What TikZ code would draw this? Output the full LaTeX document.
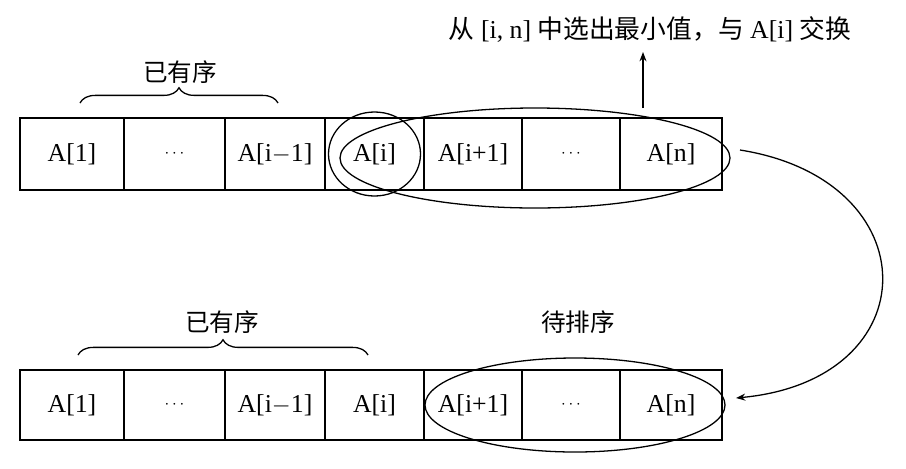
\documentclass[tikz,border=0pt]{standalone}
\usepackage{fontspec}
\setmainfont{Liberation Serif}
\newfontfamily\cjk{Noto Sans CJK SC}
\usetikzlibrary{decorations.pathreplacing,arrows.meta}
\begin{document}
\begin{tikzpicture}[x=0.03cm,y=-0.03cm,>=Stealth,line width=1.1pt,
  font=\fontsize{22}{26}\selectfont,
  brace/.style={decorate,decoration={brace,amplitude=13pt}}]
  \useasboundingbox (0,0) rectangle (906,468);

  % top row
  \foreach \n/\xa/\xb/\t in {1/20/124/{A[1]},2/124/225/{\fontsize{14}{16}\selectfont$\cdots$},3/225/325/{A[i$-$1]},
      4/325/424/{A[i]},5/424/522/{A[i+1]},6/522/620/{\fontsize{14}{16}\selectfont$\cdots$},7/620/722/{A[n]}} {
    \draw (\xa,118) rectangle (\xb,190);
    \node (t\n) at ({(\xa+\xb)/2},154) {\t};
    \draw (\xa,370) rectangle (\xb,440);
    \node (b\n) at ({(\xa+\xb)/2},405) {\t};
  }

  % top annotations
  \draw[brace] (80,103) -- (278,103);
  \node[font=\cjk\fontsize{21}{24}\selectfont] (sorted1) at (180,72) {已有序};
  \draw (t4) ellipse (46 and 42);
  \draw (535,158) ellipse (195 and 50);
  \coordinate (up) at (643,108);
  \node (task) at (650,30) {{\cjk 从} [i, n] {\cjk 中选出最小值，与} A[i] {\cjk 交换}};
  \draw[->] (up) -- (643,52);

  % bottom annotations
  \draw[brace] (78,355) -- (368,355);
  \node[font=\cjk\fontsize{21}{24}\selectfont] (sorted2) at (222,322) {已有序};
  \node[font=\cjk\fontsize{21}{24}\selectfont] (unsorted) at (578,322) {待排序};
  \draw (575,405) ellipse (150 and 47);

  % transition arrow
  \coordinate (from) at (740,150);
  \coordinate (to) at (736,398);
  \draw[->] (from) .. controls (930,180) and (930,380) .. (to);
\end{tikzpicture}
\end{document}
